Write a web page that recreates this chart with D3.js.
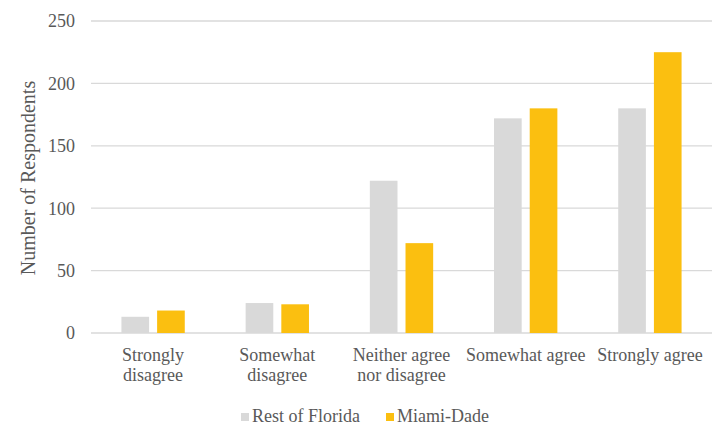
<!DOCTYPE html>
<html>
<head>
<meta charset="utf-8">
<script src="https://cdn.jsdelivr.net/npm/d3@7"></script>
<style>
  html, body { margin: 0; padding: 0; background: #fff; }
  svg text { font-family: "Liberation Serif", "Times New Roman", Times, "DejaVu Serif", serif; }
</style>
</head>
<body>
<svg id="chart" width="715" height="425"></svg>
<script>
const categories = [["Strongly", "disagree"], ["Somewhat", "disagree"], ["Neither agree", "nor disagree"], ["Somewhat agree"], ["Strongly agree"]];
const seriesNames = ["Rest of Florida", "Miami-Dade"];
const restOfFlorida = [13, 24, 122, 172, 180];
const miamiDade = [18, 23, 72, 180, 225];
const yTicks = [0, 50, 100, 150, 200, 250];
const colors = ["#d9d9d9", "#fbbf10"];

const FONT = '"Liberation Serif", "Times New Roman", Times, "DejaVu Serif", serif';
const svg = d3.select("#chart");
const catKeys = categories.map(c => c.join(" "));
const seriesValues = [restOfFlorida, miamiDade];

const x0 = d3.scaleBand().domain(catKeys).range([91, 712]).paddingInner(0.49).paddingOuter(0.245);
const x1 = d3.scaleBand().domain(seriesNames).range([0, x0.bandwidth()]).paddingInner(0.225);
const y = d3.scaleLinear().domain([0, 250]).range([333, 21]);

// gridlines
svg.append("g").selectAll("line").data(yTicks).join("line")
  .attr("x1", 91).attr("x2", 712)
  .attr("y1", d => y(d)).attr("y2", d => y(d))
  .attr("stroke", "#d9d9d9").attr("stroke-width", 1.3);

// y tick labels
svg.append("g").selectAll("text").data(yTicks).join("text")
  .attr("x", 75).attr("y", d => y(d)).attr("dy", "0.35em")
  .attr("text-anchor", "end").attr("font-size", 18).attr("fill", "#595959")
  .attr("font-family", FONT)
  .text(d => d);

// bars
const groups = svg.append("g").selectAll("g").data(catKeys).join("g")
  .attr("transform", d => `translate(${x0(d)},0)`);
groups.selectAll("rect").data((d, i) => seriesNames.map((s, j) => ({s, v: seriesValues[j][i], j})))
  .join("rect")
  .attr("x", d => x1(d.s)).attr("width", x1.bandwidth())
  .attr("y", d => y(d.v)).attr("height", d => y(0) - y(d.v))
  .attr("fill", d => colors[d.j]);

// category labels
const catG = svg.append("g").selectAll("text").data(categories).join("text")
  .attr("x", (d, i) => x0(catKeys[i]) + x0.bandwidth() / 2)
  .attr("y", 361).attr("text-anchor", "middle").attr("font-size", 18).attr("fill", "#595959")
  .attr("font-family", FONT);
catG.selectAll("tspan").data(d => d).join("tspan")
  .attr("x", function() { return d3.select(this.parentNode).attr("x"); })
  .attr("dy", (d, i) => i === 0 ? 0 : 20)
  .text(d => d);

// y axis title
svg.append("text")
  .attr("transform", "translate(35,178) rotate(-90)")
  .attr("text-anchor", "middle").attr("font-size", 20).attr("fill", "#595959")
  .attr("font-family", FONT)
  .text("Number of Respondents");

// legend
const legendX = [241, 386];
const leg = svg.append("g").selectAll("g").data(seriesNames).join("g")
  .attr("transform", (d, i) => `translate(${legendX[i]},0)`);
leg.append("rect").attr("x", 0).attr("y", 413).attr("width", 8).attr("height", 8)
  .attr("fill", (d, i) => colors[i]);
leg.append("text").attr("x", 11).attr("y", 422).attr("font-size", 18).attr("fill", "#595959")
  .attr("font-family", FONT)
  .text(d => d);
</script>
</body>
</html>
